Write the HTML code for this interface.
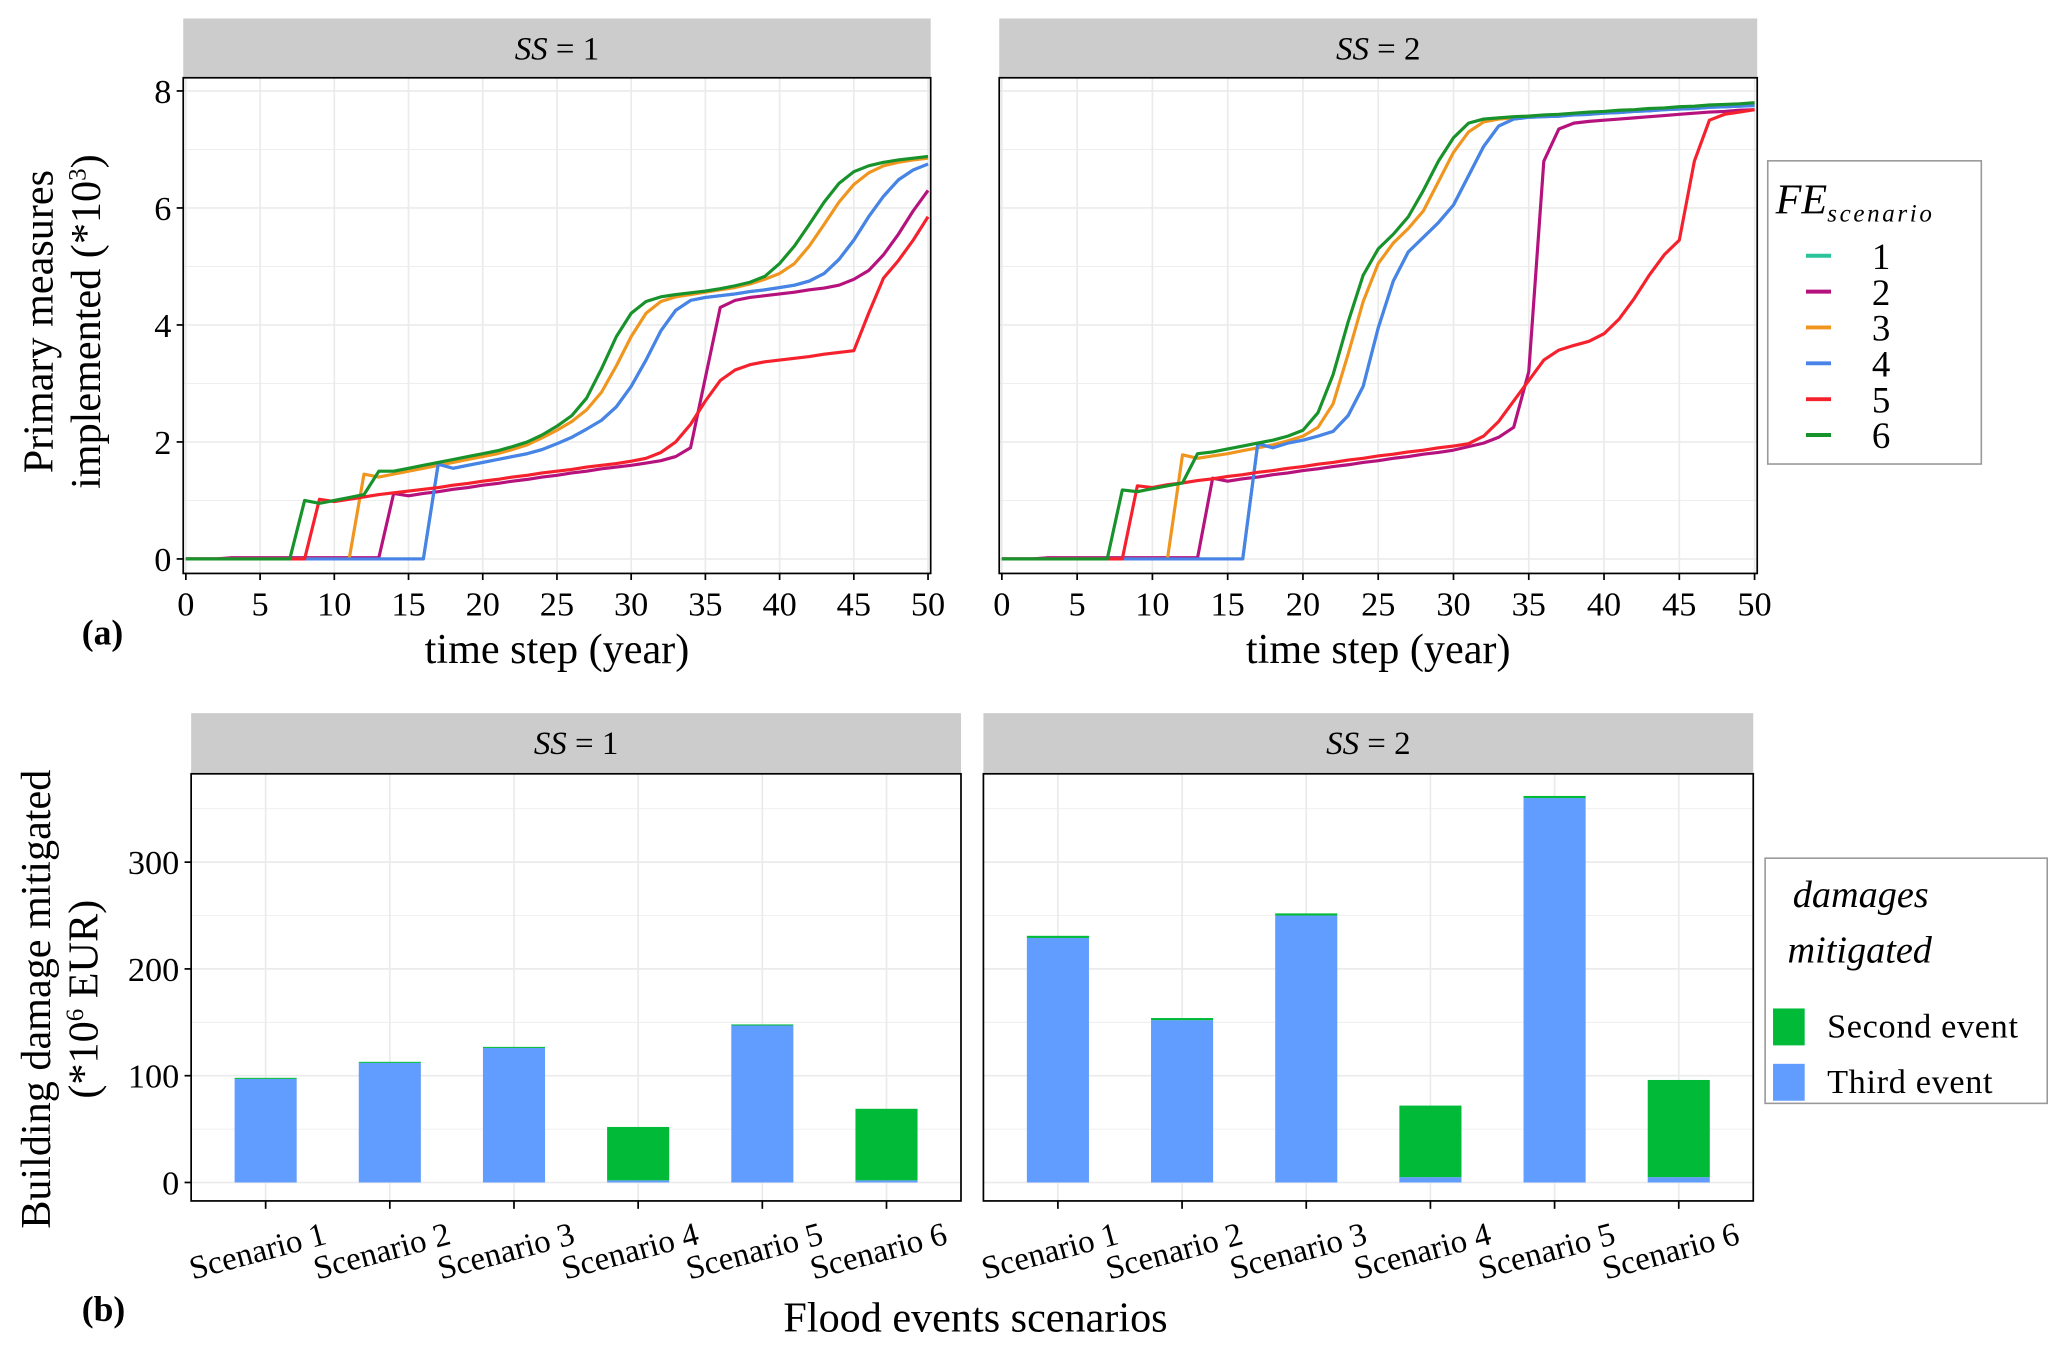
<!DOCTYPE html>
<html><head><meta charset="utf-8"><style>
html,body{margin:0;padding:0;background:#fff;}
svg{display:block;font-family:"Liberation Serif",serif;}
</style></head><body>
<svg id="chart" width="2067" height="1352" viewBox="0 0 1568 1025.6" preserveAspectRatio="none" xmlns="http://www.w3.org/2000/svg">
<g id="root"></g>
</svg>
<script>
// ---- Data: panel (a) years 0..50 ----
const years = Array.from({length:51},(_,i)=>i);
const seriesNames = ["1","2","3","4","5","6"];
const seriesColors = ["#2bc49a","#b5127e","#f0951e","#4a83e8","#f5222e","#18922a"];
const ss1_s2 = [0,0,0,0.02,0.02,0.02,0.02,0.02,0.02,0.02,0.02,0.02,0.02,0.02,1.12,1.08,1.12,1.15,1.19,1.22,1.26,1.29,1.33,1.36,1.4,1.43,1.47,1.5,1.54,1.57,1.6,1.64,1.68,1.75,1.9,3.1,4.3,4.42,4.47,4.5,4.53,4.56,4.6,4.63,4.68,4.78,4.93,5.2,5.55,5.95,6.3];
const ss1_s3 = [0,0,0,0,0,0,0,0,0,0,0,0,1.45,1.4,1.45,1.5,1.55,1.6,1.65,1.7,1.75,1.8,1.87,1.95,2.07,2.2,2.35,2.55,2.85,3.3,3.8,4.2,4.4,4.48,4.52,4.56,4.6,4.64,4.7,4.78,4.88,5.05,5.35,5.72,6.1,6.4,6.6,6.72,6.78,6.82,6.85];
const ss1_s4 = [0,0,0,0,0,0,0,0,0,0,0,0,0,0,0,0,0,1.62,1.55,1.6,1.65,1.7,1.75,1.8,1.87,1.97,2.08,2.22,2.37,2.6,2.95,3.4,3.9,4.25,4.42,4.47,4.5,4.53,4.57,4.6,4.64,4.68,4.75,4.88,5.12,5.45,5.85,6.2,6.48,6.65,6.75];
const ss1_s1 = ss1_s4.slice();
const ss1_s5 = [0,0,0,0,0,0,0,0,0,1.02,0.98,1.02,1.06,1.1,1.13,1.16,1.19,1.22,1.26,1.29,1.33,1.36,1.4,1.43,1.47,1.5,1.53,1.57,1.6,1.63,1.67,1.72,1.82,2.0,2.3,2.7,3.05,3.23,3.32,3.37,3.4,3.43,3.46,3.5,3.53,3.56,4.2,4.8,5.1,5.45,5.85];
const ss1_s6 = [0,0,0,0,0,0,0,0,1.0,0.95,1.0,1.05,1.1,1.5,1.5,1.55,1.6,1.65,1.7,1.75,1.8,1.85,1.92,2.0,2.12,2.27,2.45,2.75,3.25,3.8,4.2,4.4,4.48,4.52,4.55,4.58,4.62,4.67,4.73,4.83,5.05,5.35,5.72,6.1,6.42,6.62,6.72,6.78,6.82,6.85,6.88];

const ss2_s2 = [0,0,0,0.02,0.02,0.02,0.02,0.02,0.02,0.02,0.02,0.02,0.02,0.02,1.38,1.33,1.37,1.4,1.44,1.47,1.51,1.54,1.58,1.61,1.65,1.68,1.72,1.75,1.79,1.82,1.86,1.92,1.98,2.08,2.25,3.2,6.8,7.35,7.45,7.48,7.5,7.52,7.54,7.56,7.58,7.6,7.62,7.64,7.65,7.67,7.68];
const ss2_s3 = [0,0,0,0,0,0,0,0,0,0,0,0,1.78,1.72,1.76,1.8,1.85,1.9,1.95,2.02,2.1,2.25,2.65,3.5,4.4,5.05,5.4,5.65,5.95,6.45,6.95,7.3,7.47,7.52,7.54,7.55,7.57,7.58,7.6,7.62,7.63,7.65,7.67,7.68,7.7,7.71,7.73,7.74,7.75,7.77,7.78];
const ss2_s4 = [0,0,0,0,0,0,0,0,0,0,0,0,0,0,0,0,0,1.97,1.9,1.98,2.03,2.1,2.18,2.45,2.95,3.95,4.75,5.25,5.5,5.75,6.05,6.55,7.05,7.4,7.52,7.55,7.56,7.57,7.59,7.6,7.62,7.63,7.65,7.66,7.68,7.69,7.7,7.72,7.73,7.74,7.75];
const ss2_s1 = ss2_s4.slice();
const ss2_s5 = [0,0,0,0,0,0,0,0,0,1.25,1.22,1.27,1.3,1.34,1.37,1.41,1.44,1.48,1.51,1.55,1.58,1.62,1.65,1.69,1.72,1.76,1.79,1.83,1.86,1.9,1.93,1.97,2.1,2.35,2.7,3.05,3.4,3.57,3.65,3.72,3.85,4.1,4.45,4.85,5.2,5.45,6.8,7.5,7.6,7.64,7.68];
const ss2_s6 = [0,0,0,0,0,0,0,0,1.18,1.15,1.2,1.25,1.3,1.8,1.83,1.88,1.93,1.98,2.03,2.1,2.2,2.5,3.15,4.05,4.85,5.3,5.55,5.85,6.3,6.8,7.2,7.45,7.52,7.54,7.56,7.57,7.59,7.6,7.62,7.64,7.65,7.67,7.68,7.7,7.71,7.73,7.74,7.76,7.77,7.78,7.8];

const xTicksA = [0,5,10,15,20,25,30,35,40,45,50];
const yTicksA = [0,2,4,6,8];

// ---- Data: panel (b) ----
const categories = ["Scenario 1","Scenario 2","Scenario 3","Scenario 4","Scenario 5","Scenario 6"];
const ss1_third = [97,112,126,2,147,2];
const ss1_second = [1,1,1,50,1,67];
const ss2_third = [229,152,250,5,360,5];
const ss2_second = [2,2,2,67,2,91];
const yTicksB = [0,100,200,300];

const NS="http://www.w3.org/2000/svg";
const root=document.getElementById('root');
function el(tag,attrs,parent,text){const e=document.createElementNS(NS,tag);for(const k in attrs)e.setAttribute(k,attrs[k]);if(text!==undefined)e.textContent=text;(parent||root).appendChild(e);return e;}

// ---------- Panel (a) ----------
function linePanel(px0,px1,key,seriesList){
  const top=59,bottom=435;
  const xs=v=>px0+2+(v/50)*(px1-px0-4);
  const ys=v=>424-(v/8)*355;
  const g=el('g',{});
  
  
  const strip=el('rect',{x:px0,y:14,width:px1-px0,height:45,fill:'#cccccc'},g);
  
  
  const st=el('text',{x:(px0+px1)/2,y:45,'text-anchor':'middle','font-size':25},g);
  
  
  el('tspan',{'font-style':'italic'},st,'SS');
  el('tspan',{},st,' = '+(key==='ss1'?'1':'2'));
  el('rect',{x:px0,y:top,width:px1-px0,height:bottom-top,fill:'#fff'},g);
  for(let v=0;v<=50;v+=5){el('line',{x1:xs(v),x2:xs(v),y1:top,y2:bottom,stroke:'#ebebeb','stroke-width':1.3},g);}
  for(let v=0;v<=8;v+=1){el('line',{x1:px0,x2:px1,y1:ys(v),y2:ys(v),stroke:'#ebebeb','stroke-width':v%2===0?1.3:0.6},g);}
  seriesList.forEach((s,i)=>{
    const p=el('polyline',{points:s.map((v,j)=>xs(years[j])+','+ys(v)).join(' '),fill:'none',stroke:seriesColors[i],'stroke-width':2.4,'stroke-linejoin':'round'},g);
    
    
  });
  el('rect',{x:px0,y:top,width:px1-px0,height:bottom-top,fill:'none',stroke:'#000','stroke-width':1.3},g);
  xTicksA.forEach(t=>{
    el('line',{x1:xs(t),x2:xs(t),y1:bottom,y2:bottom+5,stroke:'#000','stroke-width':1.3},g);
    const tl=el('text',{x:xs(t),y:bottom+32,'text-anchor':'middle','font-size':26},g,String(t));
    
    
  });
  if(key==='ss1'){
    yTicksA.forEach(t=>{
      el('line',{x1:px0-5,x2:px0,y1:ys(t),y2:ys(t),stroke:'#000','stroke-width':1.3},g);
      const tl=el('text',{x:px0-9,y:ys(t)+9,'text-anchor':'end','font-size':26},g,String(t));
      
      
    });
  }
  const xt=el('text',{x:(px0+px1)/2,y:503,'text-anchor':'middle','font-size':32},g,'time step (year)');
  
  
}
linePanel(139,706,'ss1',[ss1_s1,ss1_s2,ss1_s3,ss1_s4,ss1_s5,ss1_s6]);
linePanel(758,1333,'ss2',[ss2_s1,ss2_s2,ss2_s3,ss2_s4,ss2_s5,ss2_s6]);

// y title (a)
const yta=el('text',{transform:'translate(40,244) rotate(-90)','text-anchor':'middle','font-size':32},root,'Primary measures');


const yta2=el('text',{transform:'translate(76,244) rotate(-90)','text-anchor':'middle','font-size':32},root);


el('tspan',{},yta2,'implemented (*10');
el('tspan',{'font-size':19,dy:-11},yta2,'3');
el('tspan',{dy:11},yta2,')');
const la=el('text',{x:62,y:489,'font-size':27,'font-weight':'bold'},root,'(a)');



// legend (a)
const lg=el('g',{});


el('rect',{x:1341,y:122,width:162,height:230,fill:'#fff',stroke:'#999','stroke-width':1.2},lg);
const lt=el('text',{x:1347,y:162,'font-size':32,'font-style':'italic'},lg);


el('tspan',{},lt,'FE');
el('tspan',{'font-size':19,dy:6,'letter-spacing':2},lt,'scenario');
seriesNames.forEach((n,i)=>{
  const y=194+i*27.2;
  const e=el('g',{},lg);
  
  
  el('line',{x1:1370,x2:1389,y1:y,y2:y,stroke:seriesColors[i],'stroke-width':3},e);
  el('text',{x:1420,y:y+10,'font-size':28},e,n);
});

// ---------- Panel (b) ----------
function barPanel(px0,px1,key,third,second){
  const top=587,bottom=911;
  const ys=v=>897-v*0.81;
  const step=(px1-px0)/6.2;
  const xc=i=>px0+step*(i+0.6);
  const bw=step*0.5;
  const g=el('g',{});
  
  
  const strip=el('rect',{x:px0,y:541,width:px1-px0,height:46,fill:'#cccccc'},g);
  
  
  const st=el('text',{x:(px0+px1)/2,y:572,'text-anchor':'middle','font-size':25},g);
  
  
  el('tspan',{'font-style':'italic'},st,'SS');
  el('tspan',{},st,' = '+(key==='ss1'?'1':'2'));
  for(let v=0;v<=350;v+=50){el('line',{x1:px0,x2:px1,y1:ys(v),y2:ys(v),stroke:'#ebebeb','stroke-width':v%100===0?1.3:0.6},g);}
  categories.forEach((c,i)=>{el('line',{x1:xc(i),x2:xc(i),y1:top,y2:bottom,stroke:'#ebebeb','stroke-width':1.3},g);});
  categories.forEach((c,i)=>{
    const b1=el('rect',{x:xc(i)-bw/2,y:ys(third[i]),width:bw,height:ys(0)-ys(third[i]),fill:'#619cff'},g);
    
    
    const b2=el('rect',{x:xc(i)-bw/2,y:ys(third[i]+second[i]),width:bw,height:ys(third[i])-ys(third[i]+second[i]),fill:'#00ba38'},g);
    
    
    el('line',{x1:xc(i),x2:xc(i),y1:bottom,y2:bottom+6,stroke:'#000','stroke-width':1.3},g);
    const tl=el('text',{transform:'translate('+(xc(i)-4)+','+(bottom+46)+') rotate(-15)','text-anchor':'middle','font-size':25},g,c);
    
    
  });
  el('rect',{x:px0,y:top,width:px1-px0,height:bottom-top,fill:'none',stroke:'#000','stroke-width':1.3},g);
  if(key==='ss1'){
    yTicksB.forEach(t=>{
      el('line',{x1:px0-5,x2:px0,y1:ys(t),y2:ys(t),stroke:'#000','stroke-width':1.3},g);
      const tl=el('text',{x:px0-9,y:ys(t)+9,'text-anchor':'end','font-size':26},g,String(t));
      
      
    });
  }
}
barPanel(145,729,'ss1',ss1_third,ss1_second);
barPanel(746,1330,'ss2',ss2_third,ss2_second);

const ytb=el('text',{transform:'translate(38,758) rotate(-90)','text-anchor':'middle','font-size':32},root,'Building damage mitigated');


const ytb2=el('text',{transform:'translate(74,758) rotate(-90)','text-anchor':'middle','font-size':32},root);


el('tspan',{},ytb2,'(*10');
el('tspan',{'font-size':19,dy:-11},ytb2,'6');
el('tspan',{dy:11},ytb2,' EUR)');
const lb=el('text',{x:62,y:1002,'font-size':27,'font-weight':'bold'},root,'(b)');


const xtb=el('text',{x:740,y:1010,'text-anchor':'middle','font-size':32},root,'Flood events scenarios');



// legend (b)
const lg2=el('g',{});


el('rect',{x:1339,y:651,width:214,height:186,fill:'#fff',stroke:'#999','stroke-width':1.2},lg2);
el('text',{x:1360,y:688,'font-size':29,'font-style':'italic'},lg2,'damages');
el('text',{x:1356,y:730,'font-size':29,'font-style':'italic'},lg2,'mitigated');
[['Second event','#00ba38',765],['Third event','#619cff',807]].forEach(([t,c,y])=>{
  const e=el('g',{},lg2);
  
  
  el('rect',{x:1345,y:y,width:24,height:28,fill:c},e);
  el('text',{x:1386,y:y+22,'font-size':26,'letter-spacing':0.5},e,t);
});
</script>
</body></html>
